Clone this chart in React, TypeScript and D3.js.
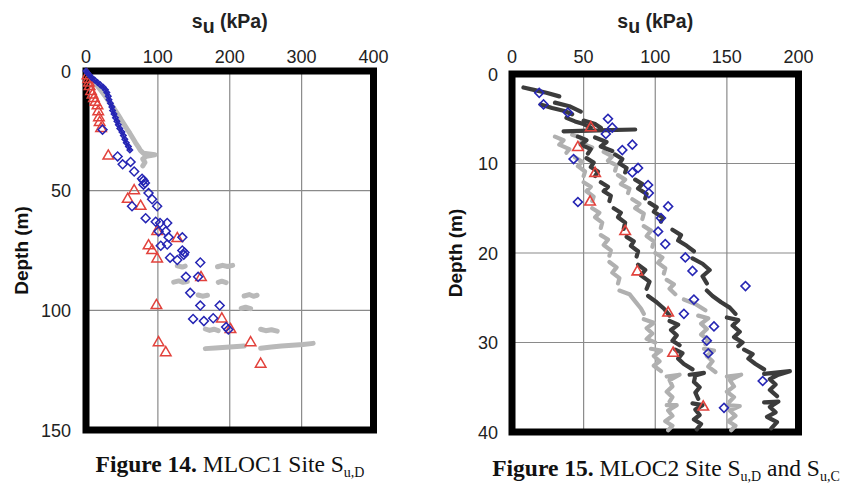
import React from 'react';
import * as d3 from 'd3';

type Pt = [number, number];
type MaybePt = Pt | null;

// ---------- Figure 14 (MLOC1) ----------
const leftXTicks = [0, 100, 200, 300, 400];
const leftYTicks = [0, 50, 100, 150];

const leftGray: MaybePt[] = [
  [0, 0], [3, 1.2], [7, 2.8], [11, 4.4], [16, 6.3], [21, 8.2], [26, 10.2], [30, 12], [35, 14], [40, 16.2],
  [45, 18.4], [49, 20.4], [53, 22.3], [57, 24.2], [61, 26], [65, 28], [69, 30], [73, 31.8], [76, 33.3],
  [80, 34.4], [96, 35], [84, 35.6], [79, 36.8], [82, 38.2], [79, 39.6], null,
  [127, 81.4], [134, 81.9], [138, 81.5], null,
  [183, 81.8], [190, 81.2], [197, 81.7], [204, 81.2], null,
  [122, 88.2], [129, 87.7], [135, 88.3], [141, 88.0], null,
  [184, 88.3], [189, 87.8], [195, 88.4], null,
  [156, 93.6], [162, 94.1], [169, 93.7], null,
  [220, 94.0], [227, 93.4], [233, 94.1], [238, 93.7], null,
  [216, 99.2], [222, 98.7], [229, 99.3], null,
  [166, 107.8], [172, 108.4], [178, 107.9], [184, 108.5], null,
  [243, 107.9], [250, 108.5], [258, 108.1], [266, 108.7], null,
  [166, 116.0], [180, 115.7], [195, 115.4], [210, 115.1], [220, 114.9], null,
  [243, 115.8], [258, 115.3], [272, 114.9], [287, 114.6], [302, 114.3], [316, 113.8],
];

const leftBlueTrace: Pt[] = [
  [0, 0], [2, 0.8], [5, 1.8], [8, 2.8], [12, 3.8], [16, 4.8], [20, 5.8], [24, 6.8], [27, 7.8], [29, 9],
  [31, 10.5], [32, 12], [34, 13.5], [36, 15], [37, 16.5], [39, 18], [41, 19.5], [43, 21], [45, 22.5],
  [47, 24], [50, 25.5], [52, 27], [54, 28.5], [56, 30], [59, 31.5], [61, 33],
];

const leftBlue: Pt[] = [
  [23, 24.5], [44, 35.7], [62, 38], [51, 39], [67, 42], [78, 45], [80, 45.8], [82, 46.8], [80, 47.5],
  [87, 51], [92, 53.6], [64, 56.5], [99, 56.5], [83, 61.5], [97, 63], [103, 63.5], [113, 63.5],
  [111, 67], [101, 67], [134, 69.5], [115, 69.5], [104, 73], [113, 72.5], [134, 75], [137, 75.8],
  [136, 76.8], [117, 78], [127, 79], [159, 80], [139, 86], [156, 86], [145, 92.7], [159, 98],
  [186, 98], [149, 103.6], [164, 104.5], [177, 103.3], [195, 107], [198, 108],
];

const leftRed: Pt[] = [
  [2, 2], [3, 3.5], [4, 5], [5, 6.5], [7, 8.5], [9, 10], [11, 11.5], [13, 13], [16, 14.5], [17, 17],
  [18, 19.5], [19, 21.5], [21, 24], [31, 35.5], [67, 50], [58, 53.6], [76, 56.5], [99, 67], [127, 70],
  [87, 73], [92, 75], [99, 78.5], [160, 86.3], [98, 98], [189, 103.6], [201, 108], [229, 113.5],
  [101, 113.5], [111, 117.7], [243, 122.5],
];

// ---------- Figure 15 (MLOC2) ----------
const rightXTicks = [0, 50, 100, 150, 200];
const rightYTicks = [0, 10, 20, 30, 40];

const profileLightA: MaybePt[] = [
  [30, 7.0], [36, 7.4], [33, 7.9], [40, 8.4], [38, 8.8], null,
  [44, 9.3], [49, 9.8], [46, 10.3], [51, 10.9], [50, 11.4], null,
  [50, 12.1], [55, 12.6], [52, 13.1], [57, 13.7], [56, 14.2], null,
  [56, 15.0], [61, 15.5], [58, 16.0], [63, 16.6], [62, 17.2], null,
  [62, 18.0], [67, 18.5], [64, 19.1], [69, 19.7], [68, 20.3], null,
  [68, 21.0], [73, 21.6], [70, 22.2], [75, 22.8], [74, 23.4], null,
  [75, 24.2], [82, 24.6], [86, 25.4], [90, 26.2], [92, 26.8], null,
  [92, 27.4], [99, 27.8], [94, 28.4], [98, 29.0], [94, 29.6], [100, 30.0], null,
  [97, 30.7], [104, 30.9], [99, 31.5], [103, 32.1], [99, 32.6], [104, 33.2], null,
  [108, 33.8], [117, 33.6], [110, 34.2], [112, 34.9], [108, 35.5], [112, 36.1], [110, 36.6], null,
  [108, 37.0], [115, 37.0], [109, 37.6], [112, 38.2], [107, 38.8], [112, 39.3], [109, 39.8],
];

const profileDarkB: MaybePt[] = [
  [8, 1.5], [16, 1.8], [24, 2.1], [33, 2.5], null,
  [20, 3.4], [28, 3.8], [36, 4.1], [42, 4.5], null,
  [38, 4.9], [44, 5.3], [50, 5.6], [55, 6.0], null,
  [46, 7.0], [52, 7.4], [48, 7.9], [55, 8.4], [53, 8.9], null,
  [52, 9.4], [57, 9.9], [55, 10.4], [60, 10.9], [58, 11.4], null,
  [62, 12.1], [67, 12.6], [64, 13.1], [69, 13.6], [68, 14.2], null,
  [71, 15.0], [76, 15.5], [74, 16.0], [79, 16.6], [78, 17.3], null,
  [80, 18.2], [85, 18.7], [83, 19.2], [88, 19.8], [87, 20.4], null,
  [88, 21.3], [93, 21.9], [90, 22.5], [96, 23.2], [94, 24.0], null,
  [95, 24.8], [101, 25.5], [106, 26.2], [110, 27.0], null,
  [110, 27.6], [116, 28.0], [111, 28.6], [115, 29.2], [112, 29.8], [117, 30.3], null,
  [114, 30.8], [119, 31.2], [116, 31.8], [120, 32.4], [126, 33.0], null,
  [124, 33.6], [134, 33.4], [128, 33.7], [127, 34.4], [131, 35.0], [128, 35.6], [130, 36.3], null,
  [126, 36.8], [133, 37.0], [128, 37.5], [131, 38.1], [127, 38.6], [132, 39.1], [129, 39.7],
];

const profileLightC: MaybePt[] = [
  [42, 6.8], [50, 7.2], [48, 7.7], [56, 8.2], null,
  [64, 8.7], [70, 9.2], [67, 9.7], [73, 10.2], [72, 10.8], null,
  [74, 11.3], [79, 11.8], [76, 12.3], [82, 12.8], [81, 13.3], null,
  [84, 14.0], [89, 14.5], [86, 15.0], [92, 15.6], [91, 16.2], null,
  [92, 17.0], [97, 17.5], [94, 18.1], [99, 18.7], [98, 19.3], null,
  [100, 20.0], [105, 20.5], [102, 21.1], [107, 21.7], [106, 22.3], null,
  [108, 23.0], [113, 23.5], [110, 24.0], [114, 24.6], null,
  [120, 25.2], [128, 25.7], [135, 26.4], null,
  [130, 27.0], [137, 27.3], [132, 27.9], [136, 28.5], [132, 29.1], [137, 29.7], [135, 30.2], null,
  [134, 30.7], [141, 30.9], [136, 31.5], [140, 32.1], [137, 32.7], [142, 33.3], null,
  [150, 33.8], [160, 33.6], [152, 34.2], [155, 34.9], [150, 35.5], [155, 36.1], [152, 36.6], null,
  [150, 37.0], [159, 37.1], [152, 37.6], [156, 38.2], [151, 38.8], [156, 39.3], [153, 39.8],
];

const profileDarkD: MaybePt[] = [
  [30, 3.2], [40, 3.6], [48, 4.2], null,
  [50, 5.2], [58, 5.6], [62, 6.0], null,
  [36, 6.4], [60, 6.3], [86, 6.2], null,
  [58, 7.1], [66, 7.6], [62, 8.1], [70, 8.6], null,
  [72, 9.0], [77, 9.5], [75, 10.0], [80, 10.5], [79, 11.0], null,
  [86, 11.8], [91, 12.3], [88, 12.8], [94, 13.4], [93, 13.9], null,
  [96, 14.4], [101, 14.9], [99, 15.4], [105, 16.0], [104, 16.5], null,
  [112, 17.4], [118, 18.0], [116, 18.6], [122, 19.2], [127, 19.8], null,
  [126, 20.6], [133, 21.2], [138, 21.9], [133, 22.6], [136, 23.4], null,
  [136, 24.2], [140, 24.8], [146, 25.5], [152, 26.1], [156, 26.8], null,
  [150, 27.2], [158, 27.5], [154, 28.1], [159, 28.8], [155, 29.4], [161, 30.0], [158, 30.4], null,
  [162, 30.8], [168, 31.3], [165, 31.8], [170, 32.4], [176, 33.0], null,
  [176, 33.5], [194, 33.2], [186, 33.6], [180, 34.1], [184, 34.7], [180, 35.3], [185, 36.0], null,
  [176, 36.7], [186, 36.6], [180, 37.2], [184, 37.8], [178, 38.3], [185, 38.9], [181, 39.6],
];

const rightBlue: Pt[] = [
  [19, 2.1], [22, 3.4], [39, 4.3], [67, 5], [70, 6], [65.5, 6.7], [84, 7.9], [77, 8.5], [43, 9.5],
  [88, 10.5], [84, 11], [95, 12.4], [95.5, 13.3], [46, 14.3], [109, 14.8], [104, 16.1], [102, 17.6],
  [107, 19], [121, 20.5], [126, 22], [163, 23.7], [127, 25.2], [120, 26.8], [141, 28.2], [136, 29.8],
  [137, 31.2], [175, 34.3], [148, 37.3],
];

const rightRed: Pt[] = [
  [55, 6], [46, 8.2], [58, 11.1], [54.5, 14.3], [79, 17.6], [87.5, 22.1], [109, 26.7], [112.5, 31.2],
  [133.5, 37.2],
];

const SANS = '"Liberation Sans", Arial, Helvetica, sans-serif';
const SERIF = '"Liberation Serif", "Times New Roman", Times, serif';
const BLUE = '#2626b4';
const RED = '#e2423c';
const GRID = '#8a8a8a';

const diamond = d3.symbol(d3.symbolSquare, 40)() as string;
const diamondSmall = d3.symbol(d3.symbolSquare, 14)() as string;
const triangle = d3.symbol(d3.symbolTriangle, 48)() as string;

type PanelProps = {
  xDomain: [number, number];
  yDomain: [number, number];
  xRange: [number, number];
  yRange: [number, number];
  xTicks: number[];
  yTicks: number[];
  titleY: number;
  tickLabelY: number;
  yTickEnd: number;
  depthX: number;
  children: (x: d3.ScaleLinear<number, number>, y: d3.ScaleLinear<number, number>) => React.ReactNode;
};

function Panel(p: PanelProps) {
  const x = d3.scaleLinear().domain(p.xDomain).range(p.xRange);
  const y = d3.scaleLinear().domain(p.yDomain).range(p.yRange);
  const cx = (p.xRange[0] + p.xRange[1]) / 2;
  const cy = (p.yRange[0] + p.yRange[1]) / 2;
  return (
    <g>
      {p.xTicks.map((t) => (
        <line key={'gx' + t} x1={x(t)} x2={x(t)} y1={p.yRange[0]} y2={p.yRange[1]} stroke={GRID} strokeWidth={1.2} />
      ))}
      {p.yTicks.map((t) => (
        <line key={'gy' + t} x1={p.xRange[0]} x2={p.xRange[1]} y1={y(t)} y2={y(t)} stroke={GRID} strokeWidth={1.2} />
      ))}
      <rect
        x={p.xRange[0]}
        y={p.yRange[0]}
        width={p.xRange[1] - p.xRange[0]}
        height={p.yRange[1] - p.yRange[0]}
        fill="none"
        stroke="#000"
        strokeWidth={7}
      />
      {p.xTicks.map((t) => (
        <text key={'tx' + t} x={x(t)} y={p.tickLabelY} textAnchor="middle" fontFamily={SANS} fontSize={18} fill="#222">
          {t}
        </text>
      ))}
      {p.yTicks.map((t) => (
        <text key={'ty' + t} x={p.yTickEnd} y={y(t) + 6.5} textAnchor="end" fontFamily={SANS} fontSize={18} fill="#222">
          {t}
        </text>
      ))}
      <text x={cx} y={p.titleY} textAnchor="middle" fontFamily={SANS} fontSize={19.5} fontWeight="bold" fill="#222">
        <tspan>s</tspan>
        <tspan dy={5}>u</tspan>
        <tspan dy={-5}> (kPa)</tspan>
      </text>
      <text
        transform={`translate(${p.depthX},${cy}) rotate(-90)`}
        textAnchor="middle"
        fontFamily={SANS}
        fontSize={19}
        fontWeight="bold"
        fill="#111"
      >
        Depth (m)
      </text>
      {p.children(x, y)}
    </g>
  );
}

function makeLine(x: d3.ScaleLinear<number, number>, y: d3.ScaleLinear<number, number>) {
  return d3
    .line<MaybePt>()
    .defined((d) => d !== null)
    .x((d) => x((d as Pt)[0]))
    .y((d) => y((d as Pt)[1]));
}

export default function App() {
  return (
    <svg
      width={845}
      height={484}
      viewBox="0 0 845 484"
      style={{ position: 'absolute', left: 0, top: 0, background: '#fff' }}
    >
      <rect x={0} y={0} width={845} height={484} fill="#fff" />
      <Panel
        xDomain={[0, 400]}
        yDomain={[0, 150]}
        xRange={[86, 373.5]}
        yRange={[71, 430]}
        xTicks={leftXTicks}
        yTicks={leftYTicks}
        titleY={28}
        tickLabelY={63}
        yTickEnd={71}
        depthX={28}
      >
        {(x, y) => {
          const line = makeLine(x, y);
          return (
            <g>
              <path d={line(leftGray) || ''} fill="none" stroke="#b9b9b9" strokeWidth={5} strokeLinejoin="round" strokeLinecap="round" />
              {leftRed.map((d, i) => (
                <path key={'lr' + i} d={triangle} transform={`translate(${x(d[0])},${y(d[1])})`} fill="none" stroke={RED} strokeWidth={1.5} />
              ))}
              <path d={line(leftBlueTrace) || ''} fill="none" stroke={BLUE} strokeWidth={2.4} strokeLinejoin="round" strokeLinecap="round" />
              {leftBlueTrace.map((d, i) => (
                <path key={'lbt' + i} d={diamondSmall} transform={`translate(${x(d[0])},${y(d[1])}) rotate(45)`} fill="none" stroke={BLUE} strokeWidth={1.6} />
              ))}
              {leftBlue.map((d, i) => (
                <path key={'lb' + i} d={diamond} transform={`translate(${x(d[0])},${y(d[1])}) rotate(45)`} fill="none" stroke={BLUE} strokeWidth={1.5} />
              ))}
            </g>
          );
        }}
      </Panel>
      <Panel
        xDomain={[0, 200]}
        yDomain={[0, 40]}
        xRange={[512, 798.5]}
        yRange={[74, 432]}
        xTicks={rightXTicks}
        yTicks={rightYTicks}
        titleY={28}
        tickLabelY={63}
        yTickEnd={498}
        depthX={462}
      >
        {(x, y) => {
          const line = makeLine(x, y);
          const light = '#b0b0b0';
          const dark = '#3c3c3c';
          return (
            <g>
              <path d={line(profileLightA) || ''} fill="none" stroke={light} strokeWidth={4.2} strokeLinejoin="round" strokeLinecap="round" />
              <path d={line(profileLightC) || ''} fill="none" stroke={light} strokeWidth={4.2} strokeLinejoin="round" strokeLinecap="round" />
              <path d={line(profileDarkB) || ''} fill="none" stroke={dark} strokeWidth={4.2} strokeLinejoin="round" strokeLinecap="round" />
              <path d={line(profileDarkD) || ''} fill="none" stroke={dark} strokeWidth={4.2} strokeLinejoin="round" strokeLinecap="round" />
              {rightRed.map((d, i) => (
                <path key={'rr' + i} d={triangle} transform={`translate(${x(d[0])},${y(d[1])})`} fill="none" stroke={RED} strokeWidth={1.6} />
              ))}
              {rightBlue.map((d, i) => (
                <path key={'rb' + i} d={diamond} transform={`translate(${x(d[0])},${y(d[1])}) rotate(45)`} fill="none" stroke={BLUE} strokeWidth={1.6} />
              ))}
            </g>
          );
        }}
      </Panel>
      <text x={230} y={472} textAnchor="middle" fontFamily={SERIF} fontSize={23.5} fill="#111">
        <tspan fontWeight="bold">Figure 14.</tspan>
        <tspan> MLOC1 Site S</tspan>
        <tspan dy={5} fontSize={14}>u,D</tspan>
      </text>
      <text x={666} y={476} textAnchor="middle" fontFamily={SERIF} fontSize={23.5} fill="#111">
        <tspan fontWeight="bold">Figure 15.</tspan>
        <tspan> MLOC2 Site S</tspan>
        <tspan dy={5} fontSize={14}>u,D</tspan>
        <tspan dy={-5}> and S</tspan>
        <tspan dy={5} fontSize={14}>u,C</tspan>
      </text>
    </svg>
  );
}
